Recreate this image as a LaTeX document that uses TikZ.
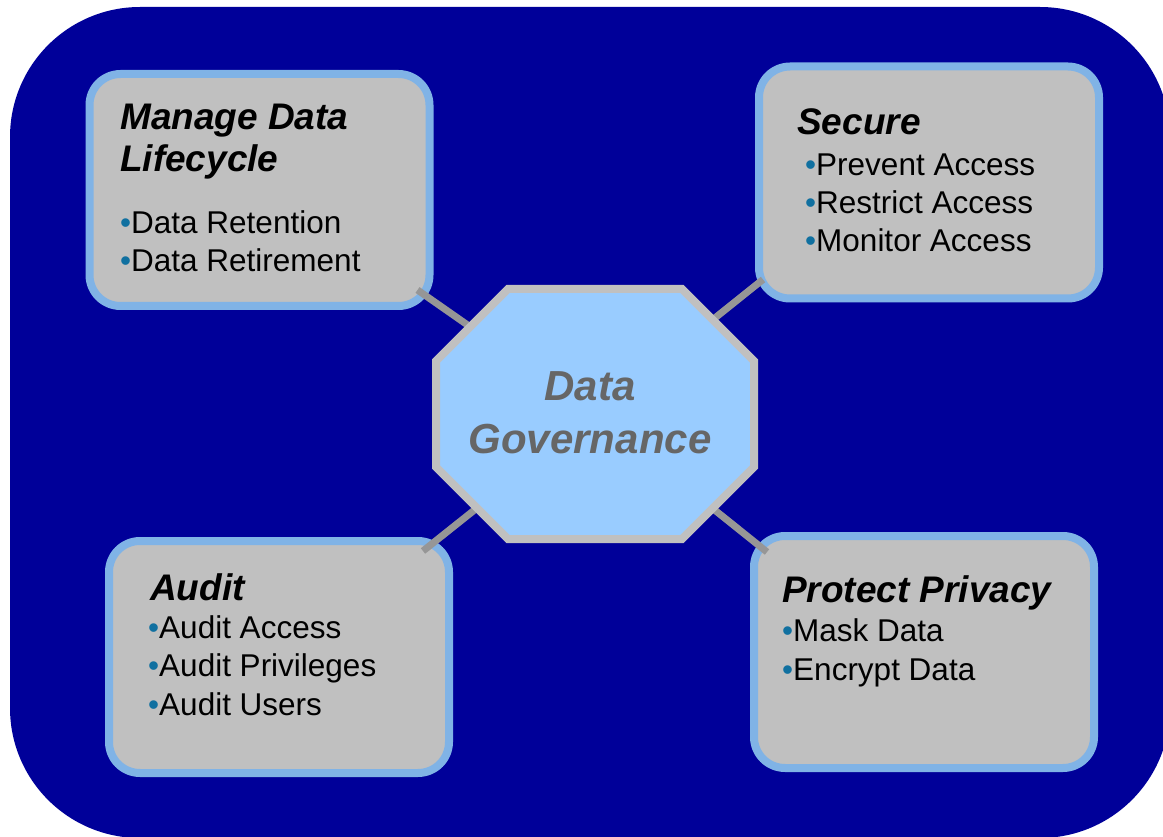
\documentclass[tikz,border=0pt]{standalone}
\usepackage{fontspec}
\setmainfont{Liberation Sans}
\usetikzlibrary{positioning}

\definecolor{panelblue}{HTML}{000099}
\definecolor{boxgray}{HTML}{C0C0C0}
\definecolor{boxrim}{HTML}{80B3E6}
\definecolor{hubfill}{HTML}{99CCFF}
\definecolor{hubtext}{HTML}{666666}
\definecolor{linkgray}{HTML}{969696}
\definecolor{dotblue}{HTML}{1070A0}

% coloured bullet in front of each item
\newcommand{\itm}{{\color{dotblue}\textbullet}}

\tikzset{
  topic/.style={draw=boxrim, fill=boxgray, line width=8pt, rounded corners=31pt,
    minimum width=340pt, minimum height=232pt, inner sep=0pt},
  hubarea/.style={minimum width=318pt, minimum height=250pt, inner sep=0pt, outer sep=0pt},
  hub/.style={draw=boxgray, fill=hubfill, line width=8pt},
  head/.style={anchor=base west, inner sep=0pt, align=left,
    font=\fontsize{37}{42}\selectfont\bfseries\itshape},
  items/.style={anchor=base west, inner sep=0pt, align=left,
    font=\fontsize{31.5}{38.3}\selectfont},
  link/.style={draw=linkgray, line width=7pt},
}

\begin{document}
\begin{tikzpicture}[x=1pt, y=1pt]
\useasboundingbox (0,0) rectangle (1163,-837);
\fill[panelblue, rounded corners=130pt] (10,-7) rectangle (1170,-838);

\node[hubarea] (gov) at (595,-414) {};
\node[topic, on grid, above left=224pt and 335.5pt of gov] (lifecycle) {};
\node[topic, on grid, above right=231.5pt and 334pt of gov] (secure) {};
\node[topic, on grid, below left=243pt and 316pt of gov] (audit) {};
\node[topic, on grid, below right=238pt and 329pt of gov] (privacy) {};

% spokes from the hub to the four topics (the octagon covers their inner ends)
\draw[link] (gov.center) -- ([shift={(-16,20)}]lifecycle.south east);
\draw[link] (gov.center) -- ([shift={(8,23)}]secure.south west);
\draw[link] (gov.center) -- ([shift={(-30,-14)}]audit.north east);
\draw[link] (gov.center) -- ([shift={(17,-20)}]privacy.north west);

% octagon with cut corners
\draw[hub] ([xshift=72pt]gov.north west) -- ([xshift=-72pt]gov.north east)
  -- ([yshift=-72pt]gov.north east) -- ([yshift=72pt]gov.south east)
  -- ([xshift=-72pt]gov.south east) -- ([xshift=72pt]gov.south west)
  -- ([yshift=72pt]gov.south west) -- ([yshift=-72pt]gov.north west) -- cycle;
\node[anchor=base, inner sep=0pt, align=center, text=hubtext,
  font=\fontsize{42}{53}\selectfont\bfseries\itshape] (gov-t) at (590,-453) {Data\\Governance};

\node[head] (lifecycle-h) at (120,-172) {Manage Data\\Lifecycle};
\node[items] (lifecycle-i) at (120,-272) {\itm Data Retention\\\itm Data Retirement};

\node[head] (secure-h) at (797,-135) {Secure};
\node[items] (secure-i) at (805,-252) {\itm Prevent Access\\\itm Restrict Access\\\itm Monitor Access};

\node[head] (audit-h) at (150,-600) {Audit};
\node[items] (audit-i) at (148,-715) {\itm Audit Access\\\itm Audit Privileges\\\itm Audit Users};

\node[head] (privacy-h) at (782,-602) {Protect Privacy};
\node[items] (privacy-i) at (782,-680) {\itm Mask Data\\\itm Encrypt Data};
\end{tikzpicture}
\end{document}
